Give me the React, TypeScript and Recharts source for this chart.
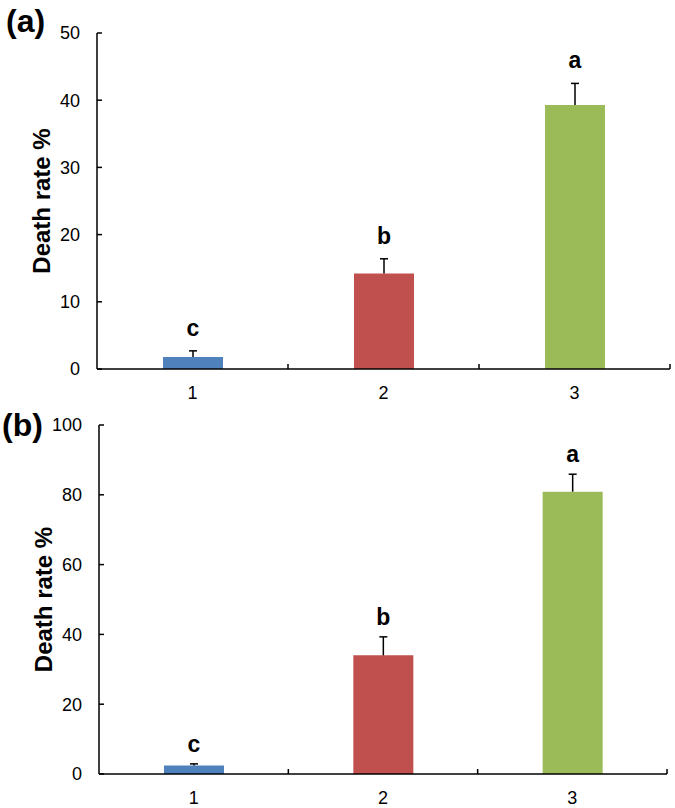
import React from 'react';
import { BarChart, Bar, XAxis, YAxis, Cell, LabelList, Label } from 'recharts';

const categories = ['1', '2', '3'];
const letters = ['c', 'b', 'a'];
const barColors = ['#4F81BD', '#C0504D', '#9BBB59'];

// panel (a)
const rateA = [1.8, 14.2, 39.3];
const errA = [0.9, 2.2, 3.2];
const ticksA = [0, 10, 20, 30, 40, 50];

// panel (b)
const rateB = [2.4, 34.0, 80.9];
const errB = [0.5, 5.3, 5.0];
const ticksB = [0, 20, 40, 60, 80, 100];

const FONT = '"Liberation Sans", Arial, sans-serif';

const buildRows = (rates: number[], errs: number[]) =>
  categories.map((c, i) => ({ name: c, rate: rates[i], err: errs[i], letter: letters[i] }));

// one-sided error bar drawn on the stacked err segment
const Whisker = (props: any) => {
  const { x, y, width, height } = props;
  const cx = x + width / 2;
  return (
    <g>
      <line x1={cx} x2={cx} y1={y} y2={y + height} stroke="#000" strokeWidth={1.5} />
      <line x1={cx - 4} x2={cx + 4} y1={y} y2={y} stroke="#000" strokeWidth={1.5} />
    </g>
  );
};

// category label + upward tick mark at the category's right boundary (Excel style)
const XTick = (props: any) => {
  const { x, y, payload, width, visibleTicksCount } = props;
  const half = payload.offset ? payload.offset : width / visibleTicksCount / 2;
  return (
    <g>
      <text x={x} y={y + 17} dy="0.71em" textAnchor="middle" fill="#000" fontSize={18} fontFamily={FONT}>
        {payload.value}
      </text>
      <line x1={x + half} x2={x + half} y1={y} y2={y - 5} stroke="#000" strokeWidth={1.5} />
    </g>
  );
};

interface PanelProps {
  rates: number[];
  errs: number[];
  ticks: number[];
  margin: { top: number; right: number; left: number; bottom: number };
  labelOffset: number;
}

const Panel: React.FC<PanelProps> = ({ rates, errs, ticks, margin, labelOffset }) => {
  const data = buildRows(rates, errs);
  return (
    <BarChart width={675} height={404} data={data} margin={margin} barSize={60}>
      <XAxis
        dataKey="name"
        height={30}
        tickLine={false}
        tickSize={0}
        tickMargin={0}
        axisLine={{ stroke: '#000', strokeWidth: 1.5 }}
        tick={<XTick />}
        interval={0}
      />
      <YAxis
        width={60}
        domain={[0, ticks[ticks.length - 1]]}
        ticks={ticks}
        tickSize={-5}
        tickMargin={22}
        axisLine={{ stroke: '#000', strokeWidth: 1.5 }}
        tickLine={{ stroke: '#000', strokeWidth: 1.5 }}
        tick={{ fill: '#000', fontSize: 18, fontFamily: FONT }}
      >
        <Label
          value="Death rate %"
          angle={-90}
          position="center"
          dx={-26}
          style={{ fill: '#000', fontSize: 24, fontWeight: 'bold', fontFamily: FONT }}
        />
      </YAxis>
      <Bar dataKey="rate" stackId="s" isAnimationActive={false}>
        {data.map((d, i) => (
          <Cell key={d.name} fill={barColors[i]} />
        ))}
      </Bar>
      <Bar dataKey="err" stackId="s" shape={<Whisker />} isAnimationActive={false}>
        <LabelList
          dataKey="letter"
          position="top"
          offset={labelOffset}
          style={{ fill: '#000', fontSize: 23, fontWeight: 'bold', fontFamily: FONT }}
        />
      </Bar>
    </BarChart>
  );
};

const panelTag: React.CSSProperties = {
  position: 'absolute',
  fontFamily: FONT,
  fontWeight: 'bold',
  fontSize: 32,
  lineHeight: '32px',
  color: '#000',
};

export default function App() {
  return (
    <div style={{ position: 'absolute', left: 0, top: 0, width: 675, height: 808, background: '#fff' }}>
      <div style={{ position: 'absolute', left: 0, top: 0 }}>
        <Panel
          rates={rateA}
          errs={errA}
          ticks={ticksA}
          margin={{ top: 33, right: 5, left: 37, bottom: 5 }}
          labelOffset={15}
        />
      </div>
      <div style={{ position: 'absolute', left: 0, top: 404 }}>
        <Panel
          rates={rateB}
          errs={errB}
          ticks={ticksB}
          margin={{ top: 21, right: 8, left: 39, bottom: 4 }}
          labelOffset={12}
        />
      </div>
      <div style={{ ...panelTag, left: 6, top: 5 }}>(a)</div>
      <div style={{ ...panelTag, left: 2, top: 409 }}>(b)</div>
    </div>
  );
}
